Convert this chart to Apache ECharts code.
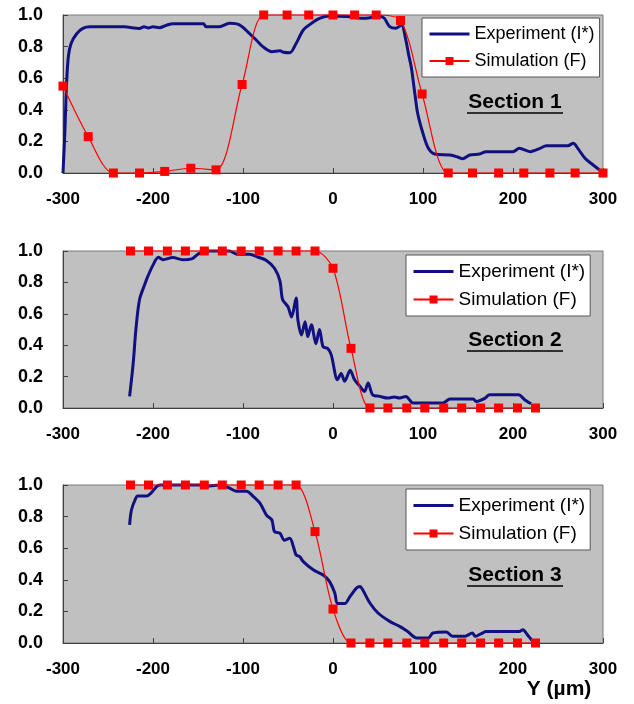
<!DOCTYPE html>
<html>
<head>
<meta charset="utf-8">
<script src="https://cdn.jsdelivr.net/npm/echarts@6/dist/echarts.min.js"></script>
<style>
  html, body { margin: 0; padding: 0; background: #fff; }
  #chart { width: 634px; height: 704px; }
</style>
</head>
<body>
<div id="chart"></div>
<script>
// Section 1 - simulation (F) markers
const sim1X = [-300, -272, -244, -215, -187, -158, -130, -101, -77, -51, -27, 0, 24, 48, 75, 99, 128, 155, 184, 212, 241, 269, 300]
const sim1Y = [0.55, 0.23, 0, 0, 0.01, 0.03, 0.02, 0.56, 1, 1, 1, 1, 1, 1, 0.965, 0.50, 0, 0, 0, 0, 0, 0, 0]
// Section 1 - experiment (I*)
const exp1X = [-300, -298, -296, -294, -291, -285, -278, -270, -250, -232, -215, -210, -205, -200, -193, -185, -178, -160, -144, -141, -127, -115, -104, -93, -85, -78, -68, -59, -55, -48, -41, -33, -24, -15, -4, 15, 33, 52, 57, 63, 70, 76, 81, 84, 87, 91, 94, 100, 106, 113, 130, 139, 144, 152, 163, 170, 200, 207, 219, 230, 237, 261, 267, 272, 280, 287, 296, 300]
const exp1Y = [0, 0.25, 0.57, 0.74, 0.82, 0.88, 0.915, 0.925, 0.925, 0.925, 0.915, 0.925, 0.918, 0.925, 0.92, 0.935, 0.945, 0.945, 0.945, 0.925, 0.925, 0.947, 0.937, 0.884, 0.84, 0.80, 0.768, 0.774, 0.764, 0.761, 0.82, 0.905, 0.947, 0.979, 0.994, 0.99, 0.979, 0.99, 0.979, 0.926, 0.916, 0.937, 0.84, 0.75, 0.67, 0.50, 0.38, 0.25, 0.156, 0.12, 0.114, 0.10, 0.09, 0.114, 0.12, 0.135, 0.135, 0.156, 0.135, 0.156, 0.173, 0.173, 0.188, 0.156, 0.093, 0.06, 0.02, 0]

// Section 2
const sim2X = [-225, -205, -184, -164, -143, -123, -102, -82, -61, -41, -20, 0, 20, 41, 61, 82, 102, 123, 143, 164, 184, 205, 225]
const sim2Y = [1, 1, 1, 1, 1, 1, 1, 1, 1, 1, 1, 0.89, 0.38, 0, 0, 0, 0, 0, 0, 0, 0, 0, 0]
const exp2X = [-226, -222, -219, -215, -209, -206, -200, -194, -189, -178, -167, -157, -150, -141, -115, -107, -93, -83, -74, -65, -59, -56, -50, -46, -41, -39, -35, -31, -28, -24, -19, -15, -11, -6, -2, 5, 9, 13, 19, 24, 30, 35, 39, 44, 52, 61, 68, 74, 81, 89, 103, 122, 130, 156, 159, 169, 174, 206, 213, 220]
const exp2Y = [0.074, 0.285, 0.50, 0.69, 0.79, 0.835, 0.91, 0.96, 0.945, 0.958, 0.945, 0.95, 0.98, 1.0, 1.0, 0.98, 0.98, 0.96, 0.94, 0.89, 0.81, 0.69, 0.645, 0.58, 0.70, 0.56, 0.465, 0.55, 0.455, 0.53, 0.41, 0.50, 0.39, 0.38, 0.34, 0.18, 0.22, 0.17, 0.24, 0.18, 0.137, 0.105, 0.16, 0.085, 0.074, 0.063, 0.07, 0.063, 0.074, 0.032, 0.032, 0.032, 0.057, 0.057, 0.042, 0.063, 0.085, 0.085, 0.053, 0.027]

// Section 3
const sim3X = [-225, -205, -184, -164, -143, -123, -102, -82, -61, -41, -20, 0, 20, 41, 61, 82, 102, 123, 143, 164, 184, 205, 225]
const sim3Y = [1, 1, 1, 1, 1, 1, 1, 1, 1, 1, 0.705, 0.215, 0, 0, 0, 0, 0, 0, 0, 0, 0, 0, 0]
const exp3X = [-226, -224, -220, -217, -207, -202, -196, -192, -148, -144, -126, -115, -107, -96, -89, -81, -74, -68, -65, -59, -54, -48, -44, -41, -37, -33, -22, -11, -4, 2, 5, 13, 19, 26, 30, 33, 41, 50, 63, 74, 83, 93, 106, 111, 126, 133, 146, 155, 158, 166, 170, 207, 211, 216, 222]
const exp3Y = [0.747, 0.84, 0.905, 0.93, 0.93, 0.95, 0.99, 1.0, 1.0, 0.99, 1.0, 0.98, 0.96, 0.96, 0.93, 0.884, 0.81, 0.78, 0.705, 0.695, 0.65, 0.663, 0.61, 0.558, 0.547, 0.515, 0.463, 0.43, 0.39, 0.316, 0.25, 0.25, 0.295, 0.347, 0.358, 0.337, 0.253, 0.19, 0.137, 0.105, 0.073, 0.032, 0.032, 0.063, 0.07, 0.042, 0.042, 0.063, 0.042, 0.063, 0.073, 0.073, 0.084, 0.052, 0.01]

const xTicks = [-300, 300, 100]   // min, max, interval
const yTicks = [0, 1, 0.2]
const sectionNames = ['Section 1', 'Section 2', 'Section 3']
const expName = 'Experiment (I*)'
const simName = 'Simulation (F)'

const FONT = '"Liberation Sans", Arial, sans-serif'
const BLUE = '#101080'
const RED = '#ff0000'

// panel boxes
const panels = [
  {top: 15, height: 158, legend: {left: 422, top: 18, size: 18, gap: 9}, label: {x: 515, y: 102}},
  {top: 251, height: 157, legend: {left: 406, top: 255, size: 19, gap: 9}, label: {x: 515, y: 340}},
  {top: 485, height: 158, legend: {left: 406, top: 489, size: 19, gap: 9}, label: {x: 515, y: 575}}
]

function pair(xs, ys) {
  return xs.map((x, i) => [x, ys[i]])
}

const seriesData = [
  [exp1X, exp1Y, sim1X, sim1Y],
  [exp2X, exp2Y, sim2X, sim2Y],
  [exp3X, exp3Y, sim3X, sim3Y]
]

let option = {
  animation: false,
  backgroundColor: '#fff',
  grid: [],
  xAxis: [],
  yAxis: [],
  legend: [],
  series: [],
  graphic: []
}

panels.forEach((p, k) => {
  option.grid.push({
    left: 63, top: p.top, width: 540, height: p.height,
    show: true, backgroundColor: '#c0c0c0', borderColor: '#7a7a7a', borderWidth: 1
  })
  option.xAxis.push({
    type: 'value', gridIndex: k,
    min: xTicks[0], max: xTicks[1], interval: xTicks[2],
    axisLine: {show: true, onZero: false, lineStyle: {color: '#404040', width: 1}},
    axisTick: {show: true, inside: true, length: 5, lineStyle: {color: '#404040'}},
    axisLabel: {margin: 18, fontSize: 17, fontWeight: 'bold', color: '#000', fontFamily: FONT},
    splitLine: {show: false}
  })
  option.yAxis.push({
    type: 'value', gridIndex: k,
    min: yTicks[0], max: yTicks[1], interval: yTicks[2],
    axisLine: {show: true, onZero: false, lineStyle: {color: '#404040', width: 1}},
    axisTick: {show: true, inside: true, length: 5, lineStyle: {color: '#404040'}},
    axisLabel: {
      margin: 20, fontSize: 18, fontWeight: 'bold', color: '#000', fontFamily: FONT,
      formatter: v => v.toFixed(1)
    },
    splitLine: {show: false}
  })
  option.legend.push({
    left: p.legend.left, top: p.legend.top, orient: 'vertical',
    backgroundColor: '#fff', borderColor: '#555', borderWidth: 1,
    padding: [7, 5, 7, 6], itemGap: p.legend.gap, itemWidth: 40, itemHeight: 10,
    selectedMode: false,
    textStyle: {fontSize: p.legend.size, color: '#000', fontFamily: FONT},
    data: [
      {name: expName, itemStyle: {opacity: 0}, lineStyle: {width: 3, color: BLUE}},
      {name: simName}
    ]
  })

  const d = seriesData[k]
  option.series.push({
    name: expName, type: 'line', xAxisIndex: k, yAxisIndex: k,
    data: pair(d[0], d[1]), showSymbol: false, symbol: 'none', smooth: 0.3, clip: false,
    lineStyle: {color: BLUE, width: 3}, itemStyle: {color: BLUE}, z: 2
  })
  option.series.push({
    name: simName, type: 'line', xAxisIndex: k, yAxisIndex: k,
    data: pair(d[2], d[3]), symbol: 'rect', symbolSize: 9, smooth: 0.3, clip: false,
    lineStyle: {color: RED, width: 1.2}, itemStyle: {color: RED}, z: 3
  })

  // section label, bold + underline
  option.graphic.push({
    type: 'text', x: p.label.x, y: p.label.y, z: 10,
    style: {text: sectionNames[k], fill: '#000', font: 'bold 21px ' + FONT, align: 'center', verticalAlign: 'middle'}
  })
  option.graphic.push({
    type: 'line', z: 10,
    shape: {x1: p.label.x - 48, y1: p.label.y + 11, x2: p.label.x + 48, y2: p.label.y + 11},
    style: {stroke: '#000', lineWidth: 1.5}
  })
})

// axis title at the bottom right
option.graphic.push({
  type: 'text', x: 559, y: 689, z: 10,
  style: {text: 'Y (µm)', fill: '#000', font: 'bold 21px ' + FONT, align: 'center', verticalAlign: 'middle'}
})

const chart = echarts.init(document.getElementById('chart'))
chart.setOption(option)
</script>
</body>
</html>
